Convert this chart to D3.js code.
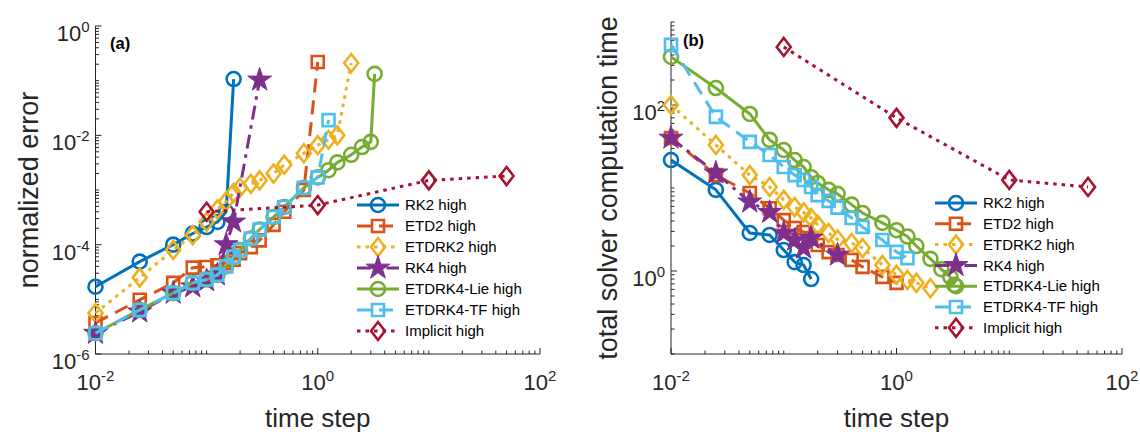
<!DOCTYPE html>
<html><head><meta charset="utf-8">
<script src="https://cdn.jsdelivr.net/npm/d3@7"></script>
<style>body{margin:0;background:#fff}</style>
</head><body>
<svg id="c" width="1140" height="438" xmlns="http://www.w3.org/2000/svg"></svg>
<script>
// ---------- data ----------
const seriesNames = ["RK2 high","ETD2 high","ETDRK2 high","RK4 high","ETDRK4-Lie high","ETDRK4-TF high","Implicit high"];
const seriesColors = ["#0072BD","#D95319","#EDB120","#7E2F8E","#77AC30","#4DBEEE","#A2142F"];
const seriesMarkers = ["circle","square","diamond","star","circle","square","diamond"];
const seriesDashes = ["solid","dash","dot","dashdot","solid","dash","dot"];

const dtRK2   = [0.01,0.025,0.05,0.075,0.1,0.125,0.15,0.175];
const errRK2  = [1.7e-5,4.9e-5,1.0e-4,1.6e-4,2.1e-4,2.6e-4,4.0e-4,0.107];
const timeRK2 = [21.7,9.5,2.87,2.72,1.79,1.28,1.18,0.80];

const dtETD2   = [0.01,0.025,0.05,0.075,0.1,0.125,0.15,0.175,0.2,0.25,0.3,0.4,0.5,0.75,1];
const errETD2  = [3.7e-6,9.8e-6,2.0e-5,3.8e-5,3.9e-5,4.2e-5,4.7e-5,5.3e-5,7e-5,9e-5,1.2e-4,2.3e-4,4e-4,1.0e-3,0.22];
const timeETD2 = [40,14.3,8.7,5.7,4.1,3.3,2.95,2.5,2.06,1.69,1.56,1.36,1.12,0.85,0.72];

const dtETDRK2   = [0.01,0.025,0.05,0.075,0.1,0.125,0.15,0.175,0.2,0.25,0.3,0.4,0.5,0.75,1,1.25,1.5,2];
const errETDRK2  = [5.6e-6,2.5e-5,8e-5,1.5e-4,2.6e-4,4.4e-4,6.2e-4,8.9e-4,1.1e-3,1.3e-3,1.5e-3,2e-3,2.9e-3,4.7e-3,6.6e-3,8.3e-3,1.0e-2,0.21];
const timeETDRK2 = [100,33,14.3,10.3,7.2,5.9,5.1,4.35,3.6,2.87,2.4,2.17,1.89,1.18,0.9,0.78,0.72,0.62];

const dtRK4   = [0.01,0.025,0.05,0.075,0.1,0.125,0.15,0.175,0.3];
const errRK4  = [2.4e-6,5.9e-6,1.3e-5,1.7e-5,2.2e-5,2.8e-5,1.0e-4,2.6e-4,0.103];
const timeRK4 = [40,15.2,6.8,5.1,2.87,2.36,1.89,2.5,1.56];

const dtLie   = [0.01,0.025,0.05,0.075,0.1,0.125,0.15,0.175,0.2,0.25,0.3,0.4,0.5,0.75,1,1.25,1.5,2,2.5,3,3.25];
const errLie  = [2.4e-6,6.4e-6,1.3e-5,2e-5,2.3e-5,2.8e-5,4e-5,6e-5,8e-5,1.3e-4,1.9e-4,3.2e-4,4.9e-4,1.1e-3,1.7e-3,2.3e-3,3.2e-3,4.4e-3,6.1e-3,7.6e-3,0.133];
const timeLie = [380,160,78,38,28.7,21.7,17.9,13.5,11.5,9.5,8.5,6.3,5.0,3.8,3.1,2.6,2.0,1.4,1.05,0.85,0.68];

const dtTF   = [0.01,0.025,0.05,0.075,0.1,0.125,0.15,0.175,0.2,0.25,0.3,0.4,0.5,0.75,1,1.25];
const errTF  = [2.4e-6,6.4e-6,1.3e-5,2e-5,2.3e-5,2.8e-5,4e-5,6e-5,8e-5,1.3e-4,1.9e-4,3.2e-4,4.9e-4,1.1e-3,1.7e-3,0.019];
const timeTF = [530,72,36,25,17.9,14.3,12.5,10.3,8.2,7.0,5.8,4.35,3.4,2.36,1.7,1.43];

const dtImp   = [0.1,1,10,50];
const errImp  = [4e-4,5.3e-4,1.5e-3,1.8e-3];
const timeImp = [500,70,12.5,10.3];

const xLabel = "time step";
const yLabelA = "normalized error";
const yLabelB = "total solver computation time";
const panelA = "(a)", panelB = "(b)";
const xDomain = [1e-2, 1e2];
const yDomainA = [1e-6, 1];
const yDomainB = [1e-1, 1e3];

// ---------- drawing ----------
const FONT = "'Liberation Sans', Arial, Helvetica, sans-serif";
const AX = "#262626";
const svg = d3.select("#c");

const dts = [dtRK2,dtETD2,dtETDRK2,dtRK4,dtLie,dtTF,dtImp];
const errs = [errRK2,errETD2,errETDRK2,errRK4,errLie,errTF,errImp];
const times = [timeRK2,timeETD2,timeETDRK2,timeRK4,timeLie,timeTF,timeImp];

const dashMap = {solid:null, dash:"14,8", dot:"3.5,5", dashdot:"14,6,3.5,6"};

function markerPath(type){
  if(type==="circle") return d3.symbol().type(d3.symbolCircle).size(Math.PI*7*7)();
  if(type==="square") { const h=6; return `M${-h},${-h}H${h}V${h}H${-h}Z`; }
  if(type==="diamond"){ const w=7,h=9; return `M0,${-h}L${w},0L0,${h}L${-w},0Z`; }
  if(type==="star"){
    const R=12.5, r=R*0.382; let p="";
    for(let i=0;i<10;i++){ const a=-Math.PI/2+i*Math.PI/5, rr=i%2?r:R;
      p+=(i?"L":"M")+(rr*Math.cos(a)).toFixed(2)+","+(rr*Math.sin(a)).toFixed(2);}
    return p+"Z";
  }
}

function styleMarker(sel, i){
  const filled = seriesMarkers[i]==="star";
  sel.attr("d", markerPath(seriesMarkers[i]))
     .attr("fill", filled ? seriesColors[i] : "none")
     .attr("stroke", seriesColors[i])
     .attr("stroke-width", filled ? 1 : 2.6)
     .attr("stroke-linejoin","miter");
}

function expLabel(sel, k, size, supSize){
  sel.append("tspan").text("10").attr("font-size", size);
  sel.append("tspan").text(String(k)).attr("font-size", supSize).attr("dy", -9);
}

function panel(cfg){
  const x = d3.scaleLog().domain(xDomain).range(cfg.xr);
  const y = d3.scaleLog().domain(cfg.yd).range(cfg.yr);
  const g = svg.append("g");
  const x0 = cfg.xr[0], y0 = cfg.yr[0];

  g.append("line").attr("x1",x0).attr("x2",cfg.xr[1]).attr("y1",y0).attr("y2",y0).attr("stroke",AX).attr("stroke-width",1);
  g.append("line").attr("x1",x0).attr("x2",x0).attr("y1",y0).attr("y2",cfg.yr[1]).attr("stroke",AX).attr("stroke-width",1);

  const ek = [Math.round(Math.log10(xDomain[0])), Math.round(Math.log10(xDomain[1]))];
  for(let k=ek[0];k<=ek[1];k++){
    for(let m=1;m<=9;m++){
      const v=m*Math.pow(10,k); if(v<xDomain[0]*0.999||v>xDomain[1]*1.001) continue;
      const major = (m===1 && k%2===0);
      const px = x(v);
      g.append("line").attr("x1",px).attr("x2",px).attr("y1",y0).attr("y2",y0-(major?6:3.5)).attr("stroke",AX).attr("stroke-width",1);
      if(major){
        const t=g.append("text").attr("x",px).attr("y",y0+36).attr("text-anchor","middle")
          .attr("font-family",FONT).attr("fill",AX);
        expLabel(t,k,22,15);
      }
    }
  }
  const yk = [Math.round(Math.log10(cfg.yd[0])), Math.round(Math.log10(cfg.yd[1]))];
  for(let k=yk[0];k<=yk[1];k++){
    for(let m=1;m<=9;m++){
      const v=m*Math.pow(10,k); if(v<cfg.yd[0]*0.999||v>cfg.yd[1]*1.001) continue;
      const major = (m===1 && k%2===0);
      const py = y(v);
      g.append("line").attr("x1",x0).attr("x2",x0+(major?6:3.5)).attr("y1",py).attr("y2",py).attr("stroke",AX).attr("stroke-width",1);
      if(major){
        const t=g.append("text").attr("x",x0-6).attr("y",py+15).attr("text-anchor","end")
          .attr("font-family",FONT).attr("fill",AX);
        expLabel(t,k,22,15);
      }
    }
  }
  g.append("text").attr("x",(cfg.xr[0]+cfg.xr[1])/2).attr("y",427).attr("text-anchor","middle")
    .attr("font-family",FONT).attr("font-size",26).attr("fill",AX).text(xLabel);
  g.append("text").attr("transform",`translate(${cfg.ylx},${(cfg.yr[0]+cfg.yr[1])/2}) rotate(-90)`)
    .attr("text-anchor","middle").attr("font-family",FONT).attr("font-size",27).attr("fill",AX).text(cfg.ylabel);
  g.append("text").attr("x",cfg.pl[0]).attr("y",cfg.pl[1]).attr("font-family",FONT).attr("font-weight","bold")
    .attr("font-size",16.5).attr("fill","#000").text(cfg.panel);

  const line = d3.line().x(d=>x(d[0])).y(d=>y(d[1]));
  for(let i=0;i<seriesNames.length;i++){
    const pts = dts[i].map((d,j)=>[d, cfg.vals[i][j]]);
    const sg = g.append("g");
    sg.append("path").attr("d",line(pts)).attr("fill","none").attr("stroke",seriesColors[i])
      .attr("stroke-width",3).attr("stroke-dasharray",dashMap[seriesDashes[i]]).attr("stroke-linejoin","round");
    sg.selectAll("path.m").data(pts).join("path").attr("class","m")
      .attr("transform",d=>`translate(${x(d[0])},${y(d[1])})`).call(s=>styleMarker(s,i));
  }

  const lg = g.append("g");
  seriesNames.forEach((n,i)=>{
    const ly = cfg.leg[1] + i*cfg.leg[2];
    const lx = cfg.leg[0];
    lg.append("line").attr("x1",lx).attr("x2",lx+42).attr("y1",ly).attr("y2",ly)
      .attr("stroke",seriesColors[i]).attr("stroke-width",3).attr("stroke-dasharray",dashMap[seriesDashes[i]]);
    lg.append("path").attr("transform",`translate(${lx+21},${ly})`).call(s=>styleMarker(s,i));
    lg.append("text").attr("x",lx+48).attr("y",ly).attr("dy","0.35em").attr("font-family",FONT)
      .attr("font-size",15).attr("fill","#000").text(n);
  });
}

panel({xr:[95.5,540], yr:[354,26], yd:yDomainA, vals:errs, ylabel:yLabelA, ylx:38, panel:panelA, pl:[110,49], leg:[357,205,21]});
panel({xr:[671,1122], yr:[354,22], yd:yDomainB, vals:times, ylabel:yLabelB, ylx:617, panel:panelB, pl:[683,46], leg:[935,203,20.8]});
</script>
</body></html>
